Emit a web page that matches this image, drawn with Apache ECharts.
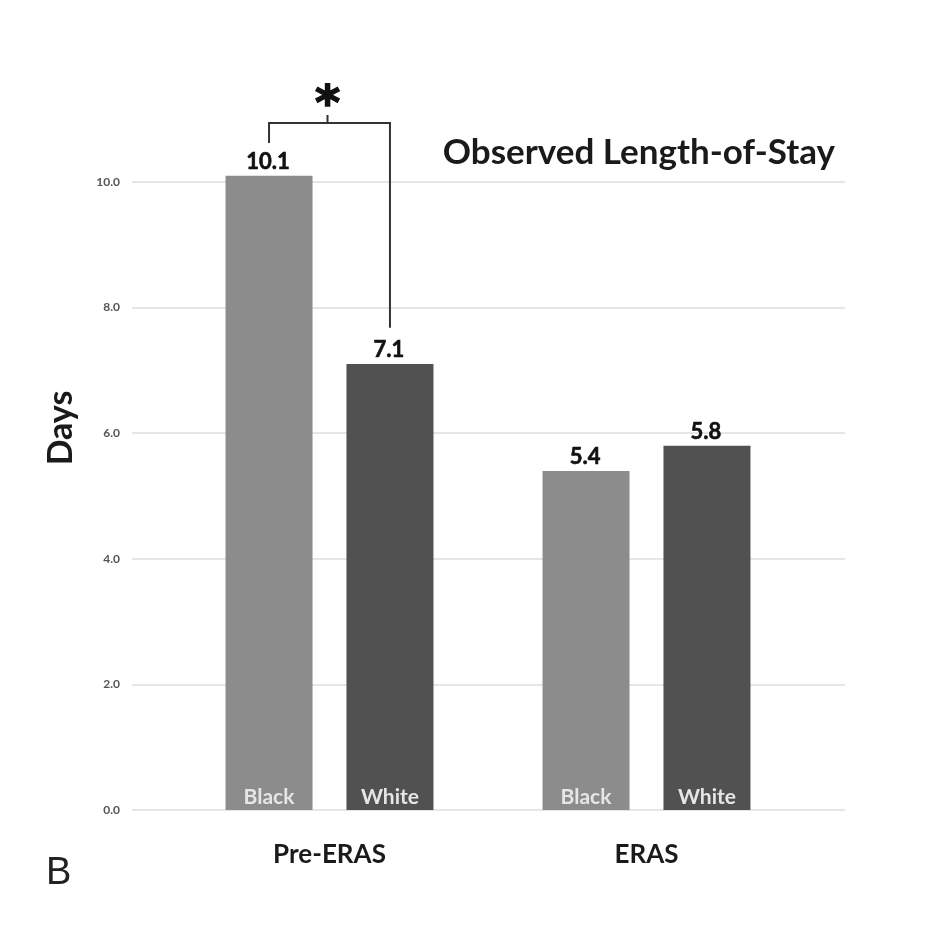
<!DOCTYPE html>
<html>
<head>
<meta charset="utf-8">
<script src="https://cdn.jsdelivr.net/npm/echarts@6/dist/echarts.min.js"></script>
<style>
  html, body { margin: 0; padding: 0; background: #fff; }
  #chart { width: 936px; height: 942px; }
</style>
</head>
<body>
<div id="chart"></div>
<script>
// data
const periods = ['Pre-ERAS', 'ERAS'];
const blackLOS = [10.1, 5.4];
const whiteLOS = [7.1, 5.8];
const yTicks = [0, 2, 4, 6, 8, 10];
// significance bracket (in days) between Pre-ERAS Black and White
const bracketTop = 10.94;
const bracketLeftEnd = 10.62;
const bracketRightEnd = 7.68;
const starLevel = 11.4;

const FONT = 'Lato, "Open Sans", sans-serif';
const chart = echarts.init(document.getElementById('chart'));

function insideLabel(name) {
  return {
    show: true,
    position: 'insideBottom',
    distance: 2,
    formatter: name,
    color: '#e6e6e6',
    fontSize: 21,
    fontWeight: 'bold',
    fontFamily: FONT
  };
}

const option = {
  backgroundColor: '#fff',
  animation: false,
  title: [
    {
      text: 'Observed Length-of-Stay',
      right: 96, top: 130,
      textStyle: { fontFamily: FONT, fontWeight: 'bold', fontSize: 35, color: '#1a1a1a' }
    },
    {
      text: 'B',
      left: 41, top: 850,
      textStyle: { fontFamily: '"Liberation Sans", Arial, sans-serif', fontWeight: 'normal', fontSize: 38, color: '#222' }
    }
  ],
  grid: [
    // wide grid that only carries the horizontal gridlines
    { left: 132, right: 91, top: 182, bottom: 132 },
    // grid for the bars
    { left: 171, right: 131, top: 182, bottom: 132 }
  ],
  xAxis: [
    { gridIndex: 0, type: 'value', show: false, min: 0, max: 1 },
    {
      gridIndex: 1, type: 'category', data: periods,
      axisLine: { show: false }, axisTick: { show: false },
      axisLabel: { margin: 32, fontFamily: FONT, fontWeight: 'bold', fontSize: 26, color: '#1a1a1a' }
    }
  ],
  yAxis: [
    {
      gridIndex: 0, type: 'value', min: 0, max: 10, interval: 2,
      axisLine: { show: false }, axisTick: { show: false },
      axisLabel: {
        margin: 12, fontSize: 12, fontWeight: 'bold', color: '#555', fontFamily: FONT,
        formatter: v => yTicks.includes(v) ? v.toFixed(1) : ''
      },
      splitLine: { lineStyle: { color: '#dedede', width: 1.5 } }
    },
    { gridIndex: 1, type: 'value', min: 0, max: 10, interval: 2, show: false }
  ],
  series: [
    {
      name: 'Black', type: 'bar', xAxisIndex: 1, yAxisIndex: 1,
      data: blackLOS, barWidth: 87, barGap: '39%', clip: false,
      itemStyle: { color: '#8c8c8c' },
      label: insideLabel('Black')
    },
    {
      name: 'White', type: 'bar', xAxisIndex: 1, yAxisIndex: 1,
      data: whiteLOS, barWidth: 87, barGap: '39%', clip: false,
      itemStyle: { color: '#515151' },
      label: insideLabel('White')
    }
  ]
};
chart.setOption(option);

// value labels and bracket placed from the bars' own layout
function barLayout(seriesIndex, idx) {
  return chart.getModel().getSeriesByIndex(seriesIndex).getData().getItemLayout(idx);
}
const graphics = [];
[[0, blackLOS], [1, whiteLOS]].forEach(([si, vals]) => {
  vals.forEach((v, i) => {
    const l = barLayout(si, i);
    const top = Math.min(l.y, l.y + l.height);
    graphics.push({
      type: 'text',
      x: l.x + l.width / 2 - 1,
      y: top - 3,
      style: {
        text: v.toFixed(1), align: 'center', verticalAlign: 'bottom',
        font: 'bold 22px ' + FONT, fill: '#111', stroke: '#111', lineWidth: 0.6
      }
    });
  });
});

// significance bracket
const bl = barLayout(0, 0);
const wl = barLayout(1, 0);
const xL = bl.x + bl.width / 2;
const xR = wl.x + wl.width / 2;
const xMid = (xL + xR) / 2 - 2;
const yTop = chart.convertToPixel({ yAxisIndex: 1 }, bracketTop);
const yLeft = chart.convertToPixel({ yAxisIndex: 1 }, bracketLeftEnd);
const yRight = chart.convertToPixel({ yAxisIndex: 1 }, bracketRightEnd);
const yStar = chart.convertToPixel({ yAxisIndex: 1 }, starLevel);
graphics.push({
  type: 'polyline',
  shape: { points: [[xL, yLeft], [xL, yTop], [xR, yTop], [xR, yRight]] },
  style: { stroke: '#333', lineWidth: 2, fill: null }
});
graphics.push({
  type: 'line',
  shape: { x1: xMid, y1: yTop, x2: xMid, y2: yTop - 8 },
  style: { stroke: '#333', lineWidth: 2 }
});
graphics.push({
  type: 'text',
  x: xMid, y: yStar + 12,
  style: {
    text: '*', align: 'center', verticalAlign: 'middle',
    font: 'bold 48px "DejaVu Sans", sans-serif', fill: '#111', stroke: '#111', lineWidth: 1.5
  }
});
// y axis title
graphics.push({
  type: 'text',
  x: 61, y: 428, rotation: Math.PI / 2,
  style: { text: 'Days', align: 'center', verticalAlign: 'middle', font: 'bold 34px ' + FONT, fill: '#1a1a1a' }
});
chart.setOption({ graphic: graphics });
</script>
</body>
</html>
